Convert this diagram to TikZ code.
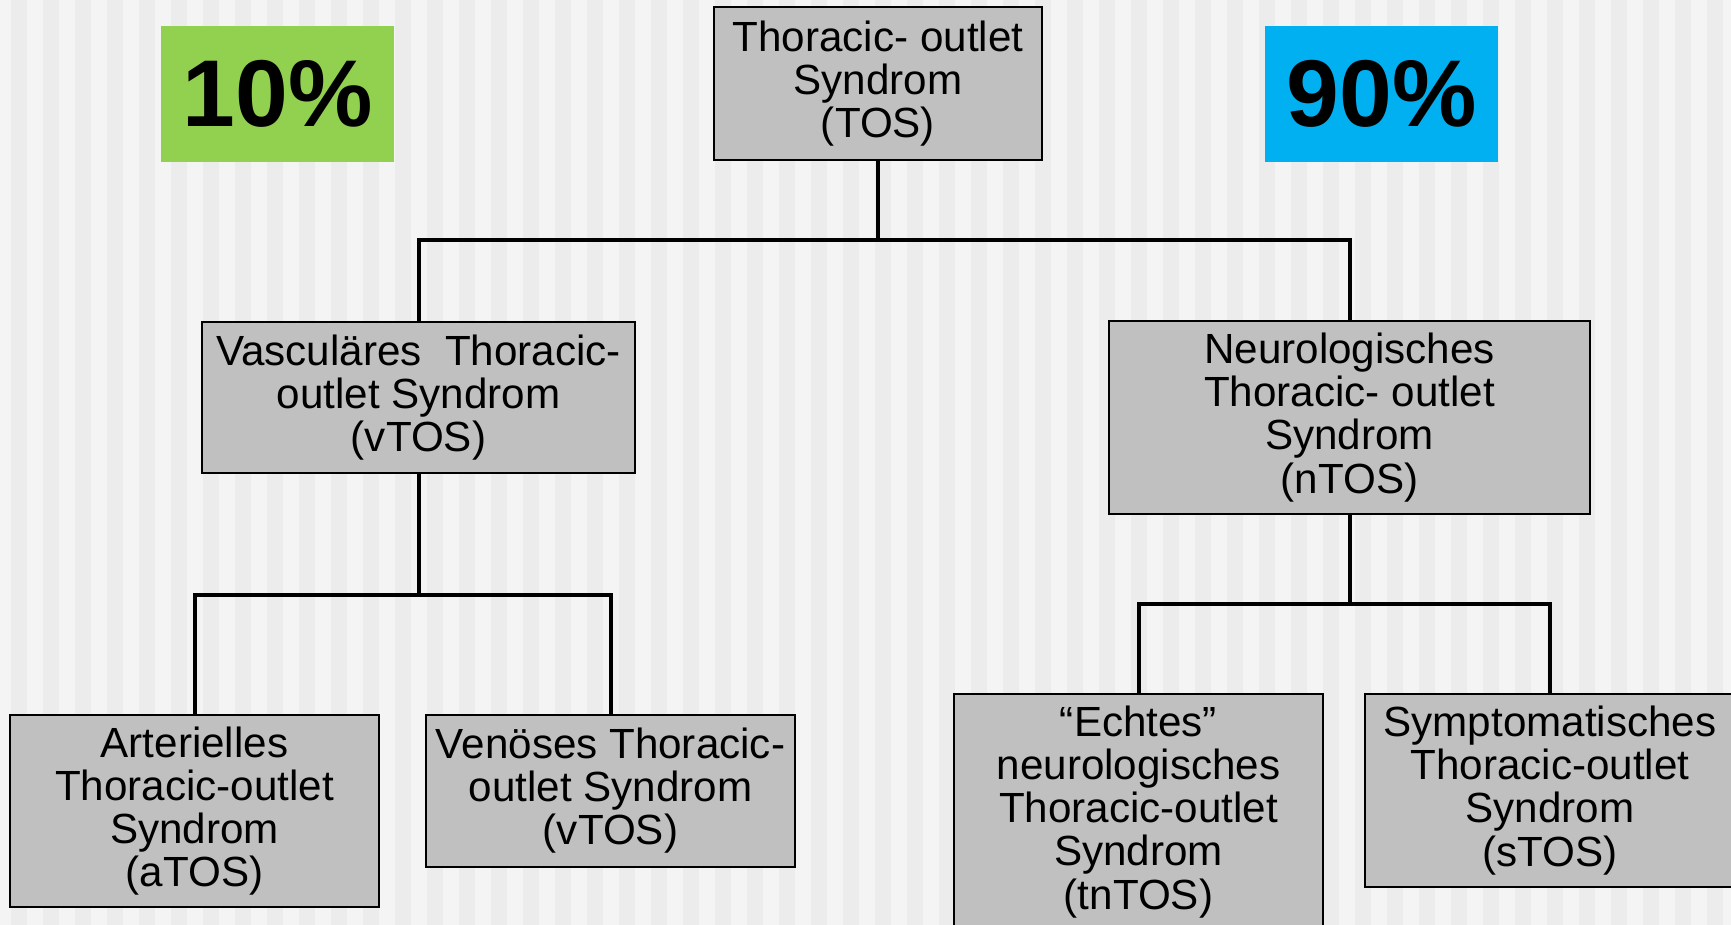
\documentclass[tikz,border=0pt]{standalone}
\usepackage{fontspec}
\setmainfont{Liberation Sans}
\usepackage{xcolor}
\definecolor{boxgray}{RGB}{192,192,192}
\definecolor{stripedark}{RGB}{236,236,236}
\definecolor{stripelight}{RGB}{244,244,244}
\definecolor{pctgreen}{RGB}{146,208,80}
\definecolor{pctblue}{RGB}{0,176,240}

\begin{document}
\begin{tikzpicture}[
    x=0.2mm, y=-0.2mm,
    tbox/.style={rectangle, draw=black, fill=boxgray, line width=0.4mm, align=center, inner sep=0pt, font=\fontsize{24}{24.5}\selectfont},
    pct/.style={rectangle, inner sep=0pt, minimum width=46.6mm, minimum height=27.2mm, font=\fontsize{54}{54}\selectfont\bfseries},
    link/.style={line width=0.8mm, draw=black}
]
\useasboundingbox (0,0) rectangle (1731,925);
% striped background
\fill[stripelight] (0,0) rectangle (1731,925);
\foreach \k in {0,...,53}
    \fill[stripedark] ({11+32*\k},0) rectangle ++(16,925);

\node[pct, fill=pctgreen] (p10) at (277.5,94) {10\%};
\node[pct, fill=pctblue] (p90) at (1381.5,94) {90\%};

\node[tbox, minimum width=65.6mm, minimum height=30.6mm] (tos) at (878,83.5) {Thoracic- outlet\\ Syndrom\\ (TOS)};
\node[tbox, minimum width=86.6mm, minimum height=30.2mm] (vtos) at (418.5,397.5) {Vasculäres\ \ Thoracic-\\ outlet Syndrom\\ (vTOS)};
\node[tbox, minimum width=96.2mm, minimum height=38.6mm] (ntos) at (1349.5,417.5) {Neurologisches\\ Thoracic- outlet\\ Syndrom\\ (nTOS)};

\node[tbox, minimum width=73.8mm, minimum height=38.4mm] (atos) at (194.5,811) {Arterielles\\ Thoracic-outlet\\ Syndrom\\ (aTOS)};
\node[tbox, minimum width=73.8mm, minimum height=30.4mm] (venos) at (610.5,791) {Venöses Thoracic-\\ outlet Syndrom\\ (vTOS)};
\node[tbox, minimum width=73.8mm, minimum height=47.2mm] (tntos) at (1138.5,812) {“Echtes”\\ neurologisches\\ Thoracic-outlet\\ Syndrom\\ (tnTOS)};
\node[tbox, minimum width=74mm, minimum height=38.6mm] (stos) at (1550,790.5) {Symptomatisches\\ Thoracic-outlet\\ Syndrom\\ (sTOS)};

% tree connectors
\coordinate (j0) at (878,240);
\coordinate (jv) at (418.5,595);
\coordinate (jn) at (1349.5,604);
\draw[link] (tos.south) -- (j0) -| (vtos.north);
\draw[link] (j0) -| (ntos.north);
\draw[link] (vtos.south) -- (jv) -| (atos.north);
\draw[link] (jv) -| (venos.north);
\draw[link] (ntos.south) -- (jn) -| (tntos.north);
\draw[link] (jn) -| (stos.north);
\end{tikzpicture}
\end{document}
